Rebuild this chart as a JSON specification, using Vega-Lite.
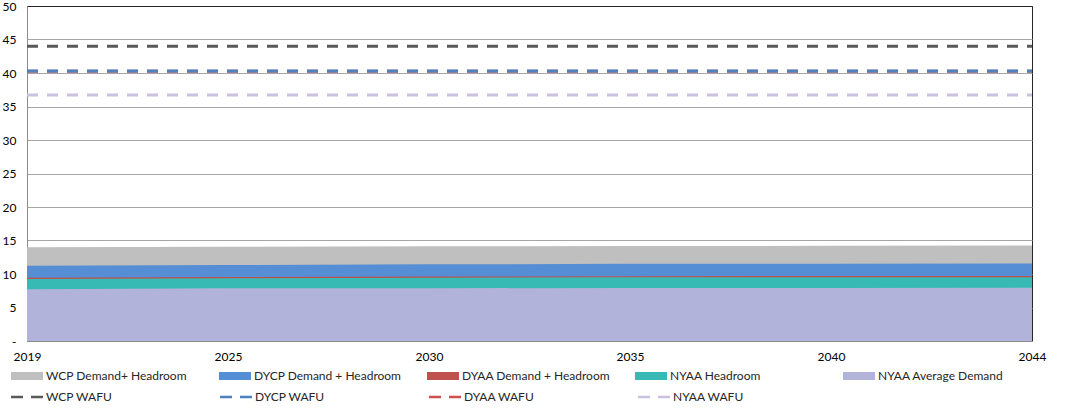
{
  "$schema": "https://vega.github.io/schema/vega-lite/v6.json",
  "width": 1005,
  "height": 335,
  "autosize": "none",
  "padding": {"left": 27, "top": 6, "right": 34, "bottom": 68},
  "background": "white",
  "config": {
    "font": "Lato",
    "view": {"stroke": "#262626", "strokeWidth": 1},
    "axisX": {"title": null, "labelAngle": 0, "ticks": false, "grid": false, "domainColor": "#8c8c8c", "labelPadding": 10, "labelFontSize": 12, "labelColor": "#000000", "labelFont": "Lato"},
    "axisY": {"title": null, "ticks": false, "labelOverlap": false, "domainColor": "#8c8c8c", "labelPadding": 11, "labelFontSize": 12, "labelColor": "#000000", "labelFont": "Lato"}
  },
  "data": {
    "values": [
      {"year": "2019", "wcp": 13.98, "dycp": 11.24, "dyaa": 9.45, "nyaah": 9.27, "nyaaavg": 7.72, "wcpw": 44.0, "dycpw": 40.3, "dyaaw": 40.25, "nyaaw": 36.7},
      {"year": "2025", "wcp": 14.07, "dycp": 11.34, "dyaa": 9.55, "nyaah": 9.37, "nyaaavg": 7.86, "wcpw": 44.0, "dycpw": 40.3, "dyaaw": 40.25, "nyaaw": 36.7},
      {"year": "2030", "wcp": 14.13, "dycp": 11.44, "dyaa": 9.62, "nyaah": 9.45, "nyaaavg": 7.88, "wcpw": 44.0, "dycpw": 40.3, "dyaaw": 40.25, "nyaaw": 36.7},
      {"year": "2035", "wcp": 14.18, "dycp": 11.52, "dyaa": 9.68, "nyaah": 9.5, "nyaaavg": 7.91, "wcpw": 44.0, "dycpw": 40.3, "dyaaw": 40.25, "nyaaw": 36.7},
      {"year": "2040", "wcp": 14.2, "dycp": 11.54, "dyaa": 9.7, "nyaah": 9.52, "nyaaavg": 7.92, "wcpw": 44.0, "dycpw": 40.3, "dyaaw": 40.25, "nyaaw": 36.7},
      {"year": "2044", "wcp": 14.25, "dycp": 11.55, "dyaa": 9.7, "nyaah": 9.53, "nyaaavg": 7.94, "wcpw": 44.0, "dycpw": 40.3, "dyaaw": 40.25, "nyaaw": 36.7}
    ]
  },
  "encoding": {
    "x": {"field": "year", "type": "ordinal", "scale": {"type": "point", "padding": 0}, "axis": {"title": null}}
  },
  "layer": [
    {
      "mark": {"type": "area", "opacity": 1},
      "encoding": {
        "y": {"field": "wcp", "type": "quantitative", "scale": {"domain": [0, 50], "nice": false}, "axis": {"title": null, "values": [0, 5, 10, 15, 20, 25, 30, 35, 40, 45, 50], "labelExpr": "datum.value == 0 ? '-' : datum.label", "gridColor": {"condition": {"test": "datum.value == 50", "value": "#262626"}, "value": "#a6a6a6"}}},
        "fill": {
          "datum": "WCP Demand+ Headroom",
          "type": "nominal",
          "scale": {
            "domain": ["WCP Demand+ Headroom", "DYCP Demand + Headroom", "DYAA Demand + Headroom", "NYAA Headroom", "NYAA Average Demand"],
            "range": ["#bfbfbf", "#558ed5", "#c0504d", "#37bab4", "#b1b3da"]
          },
          "legend": {
            "title": null,
            "orient": "none",
            "legendX": -6,
            "legendY": 364,
            "direction": "horizontal",
            "columns": 5,
            "gridAlign": "all",
            "columnPadding": 25,
            "padding": 0,
            "symbolType": "M-4,-1H4V1H-4Z",
            "symbolSize": 64,
            "symbolStrokeWidth": 0,
            "symbolOpacity": 1,
            "labelOffset": 13,
            "labelFontSize": 12,
            "labelFont": "Lato",
            "labelColor": "#262626",
            "labelLimit": 300
          }
        }
      }
    },
    {
      "mark": {"type": "area", "opacity": 1},
      "encoding": {"y": {"field": "dycp", "type": "quantitative", "axis": {"title": null, "values": [0, 5, 10, 15, 20, 25, 30, 35, 40, 45, 50], "labelExpr": "datum.value == 0 ? '-' : datum.label", "gridColor": {"condition": {"test": "datum.value == 50", "value": "#262626"}, "value": "#a6a6a6"}}}, "fill": {"datum": "DYCP Demand + Headroom", "type": "nominal", "legend": null}}
    },
    {
      "mark": {"type": "area", "opacity": 1},
      "encoding": {"y": {"field": "dyaa", "type": "quantitative", "axis": {"title": null, "values": [0, 5, 10, 15, 20, 25, 30, 35, 40, 45, 50], "labelExpr": "datum.value == 0 ? '-' : datum.label", "gridColor": {"condition": {"test": "datum.value == 50", "value": "#262626"}, "value": "#a6a6a6"}}}, "fill": {"datum": "DYAA Demand + Headroom", "type": "nominal", "legend": null}}
    },
    {
      "mark": {"type": "area", "opacity": 1},
      "encoding": {"y": {"field": "nyaah", "type": "quantitative", "axis": {"title": null, "values": [0, 5, 10, 15, 20, 25, 30, 35, 40, 45, 50], "labelExpr": "datum.value == 0 ? '-' : datum.label", "gridColor": {"condition": {"test": "datum.value == 50", "value": "#262626"}, "value": "#a6a6a6"}}}, "fill": {"datum": "NYAA Headroom", "type": "nominal", "legend": null}}
    },
    {
      "mark": {"type": "area", "opacity": 1},
      "encoding": {"y": {"field": "nyaaavg", "type": "quantitative", "axis": {"title": null, "values": [0, 5, 10, 15, 20, 25, 30, 35, 40, 45, 50], "labelExpr": "datum.value == 0 ? '-' : datum.label", "gridColor": {"condition": {"test": "datum.value == 50", "value": "#262626"}, "value": "#a6a6a6"}}}, "fill": {"datum": "NYAA Average Demand", "type": "nominal", "legend": null}}
    },
    {
      "mark": {"type": "line", "strokeWidth": 3, "strokeDash": [11, 9], "strokeCap": "butt"},
      "encoding": {
        "y": {"field": "wcpw", "type": "quantitative", "axis": {"title": null, "values": [0, 5, 10, 15, 20, 25, 30, 35, 40, 45, 50], "labelExpr": "datum.value == 0 ? '-' : datum.label", "gridColor": {"condition": {"test": "datum.value == 50", "value": "#262626"}, "value": "#a6a6a6"}}},
        "stroke": {
          "datum": "WCP WAFU",
          "type": "nominal",
          "scale": {
            "domain": ["WCP WAFU", "DYCP WAFU", "DYAA WAFU", "NYAA WAFU"],
            "range": ["#595959", "#4f81bd", "#d0504d", "#ccc1df"]
          },
          "legend": {
            "title": null,
            "orient": "none",
            "legendX": -6,
            "legendY": 385,
            "direction": "horizontal",
            "columns": 5,
            "gridAlign": "all",
            "columnPadding": 98,
            "padding": 0,
            "symbolType": "M-4,0H4",
            "symbolSize": 64,
            "symbolStrokeWidth": 2.5,
            "symbolDash": [12, 8],
            "symbolOpacity": 1,
            "labelOffset": 13,
            "labelFontSize": 12,
            "labelFont": "Lato",
            "labelColor": "#262626",
            "labelLimit": 300
          }
        }
      }
    },
    {
      "mark": {"type": "line", "strokeWidth": 3, "strokeDash": [11, 9], "strokeCap": "butt"},
      "encoding": {"y": {"field": "dyaaw", "type": "quantitative", "axis": {"title": null, "values": [0, 5, 10, 15, 20, 25, 30, 35, 40, 45, 50], "labelExpr": "datum.value == 0 ? '-' : datum.label", "gridColor": {"condition": {"test": "datum.value == 50", "value": "#262626"}, "value": "#a6a6a6"}}}, "stroke": {"datum": "DYAA WAFU", "type": "nominal", "legend": null}}
    },
    {
      "mark": {"type": "line", "strokeWidth": 3, "strokeDash": [11, 9], "strokeCap": "butt"},
      "encoding": {"y": {"field": "dycpw", "type": "quantitative", "axis": {"title": null, "values": [0, 5, 10, 15, 20, 25, 30, 35, 40, 45, 50], "labelExpr": "datum.value == 0 ? '-' : datum.label", "gridColor": {"condition": {"test": "datum.value == 50", "value": "#262626"}, "value": "#a6a6a6"}}}, "stroke": {"datum": "DYCP WAFU", "type": "nominal", "legend": null}}
    },
    {
      "mark": {"type": "line", "strokeWidth": 3, "strokeDash": [11, 9], "strokeCap": "butt"},
      "encoding": {"y": {"field": "nyaaw", "type": "quantitative", "axis": {"title": null, "values": [0, 5, 10, 15, 20, 25, 30, 35, 40, 45, 50], "labelExpr": "datum.value == 0 ? '-' : datum.label", "gridColor": {"condition": {"test": "datum.value == 50", "value": "#262626"}, "value": "#a6a6a6"}}}, "stroke": {"datum": "NYAA WAFU", "type": "nominal", "legend": null}}
    }
  ]
}
